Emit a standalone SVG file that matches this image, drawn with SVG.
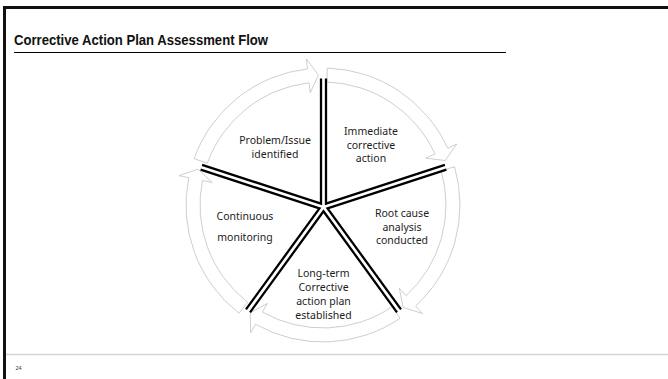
<svg xmlns="http://www.w3.org/2000/svg" width="668" height="379" viewBox="0 0 668 379">
  <style>
    .frame { fill: none; stroke: #111; stroke-width: 3; }
    .rule { fill: none; stroke: #000; stroke-width: 1; }
    .foot { fill: none; stroke: #d4d4d4; stroke-width: 1.3; }
    .title { font-family: "Liberation Sans", Arial, sans-serif; font-weight: bold; font-size: 14px; fill: #111; }
    .page { font-family: "Liberation Sans", Arial, sans-serif; font-size: 5.5px; fill: #333; }
    .arrow { fill: #fff; stroke: #c2c2c2; stroke-width: 0.8; stroke-linejoin: miter; }
    .edge { fill: none; stroke: #000; stroke-width: 2.3; stroke-linejoin: miter; stroke-miterlimit: 10; }
    .label { font-family: "Noto Sans", "Open Sans", sans-serif; font-size: 10.5px; fill: #1c1c1c; text-anchor: middle; }
  </style>
  <rect width="668" height="379" fill="#fff"/>

  <!-- slide frame, header and footer -->
  <path class="frame" d="M4.5,379 V7.5 H668"/>
  <text class="title" x="14" y="45" textLength="254" lengthAdjust="spacingAndGlyphs">Corrective Action Plan Assessment Flow</text>
  <line class="rule" x1="14" y1="52.5" x2="506" y2="52.5"/>
  <line class="foot" x1="6" y1="354.5" x2="668" y2="354.5"/>
  <text class="page" x="15.5" y="370">24</text>

  <!-- circular arrows around the cycle -->
  <g id="connectors">
    <path class="arrow" d="M327.30,68.07 A137,137 0 0,1 447.66,148.19 L456.76,144.04 L445.16,160.54 L425.83,158.14 L434.93,153.99 A123,123 0 0,0 326.86,82.06 Z"/>
    <path class="arrow" d="M454.56,166.78 A137,137 0 0,1 415.56,306.01 L422.31,313.38 L403.04,307.44 L399.34,288.31 L406.10,295.69 A123,123 0 0,0 441.12,170.68 Z"/>
    <path class="arrow" d="M400.00,318.31 A137,137 0 0,1 255.54,324.24 L250.61,332.94 L250.31,312.78 L267.36,303.35 L262.43,312.05 A123,123 0 0,0 392.14,306.73 Z"/>
    <path class="arrow" d="M239.03,313.25 A137,137 0 0,1 188.75,177.69 L178.95,175.69 L198.04,169.17 L212.27,182.47 L202.47,180.48 A123,123 0 0,0 247.61,302.19 Z"/>
    <path class="arrow" d="M194.10,158.59 A137,137 0 0,1 307.49,68.88 L306.36,58.95 L318.46,75.08 L310.21,92.73 L309.08,82.79 A123,123 0 0,0 207.27,163.34 Z"/>
  </g>

  <!-- pie segments -->
  <g id="immediate-action">
    <path class="edge" d="M326,78.56 L326,203.56 L444.88,164.93"/>
    <text class="label" x="371" y="135">Immediate</text>
    <text class="label" x="371" y="148.5">corrective</text>
    <text class="label" x="371" y="162">action</text>
  </g>
  <g id="root-cause">
    <path class="edge" d="M446.42,169.68 L327.54,208.31 L401.01,309.44"/>
    <text class="label" x="402" y="217">Root cause</text>
    <text class="label" x="402" y="230.5">analysis</text>
    <text class="label" x="402" y="244">conducted</text>
  </g>
  <g id="long-term-plan">
    <path class="edge" d="M397.0,312.38 L323.5,211.25 L250.03,312.38"/>
    <text class="label" x="323.5" y="277">Long-term</text>
    <text class="label" x="323.5" y="291">Corrective</text>
    <text class="label" x="323.5" y="305">action plan</text>
    <text class="label" x="323.5" y="319">established</text>
  </g>
  <g id="continuous-monitoring">
    <path class="edge" d="M245.99,309.44 L319.46,208.31 L200.58,169.68"/>
    <text class="label" x="245" y="220">Continuous</text>
    <text class="label" x="245" y="241">monitoring</text>
  </g>
  <g id="problem-identified">
    <path class="edge" d="M202.12,164.93 L321,203.56 L321,78.56"/>
    <text class="label" x="275" y="144">Problem/Issue</text>
    <text class="label" x="275" y="157.5">identified</text>
  </g>
</svg>
